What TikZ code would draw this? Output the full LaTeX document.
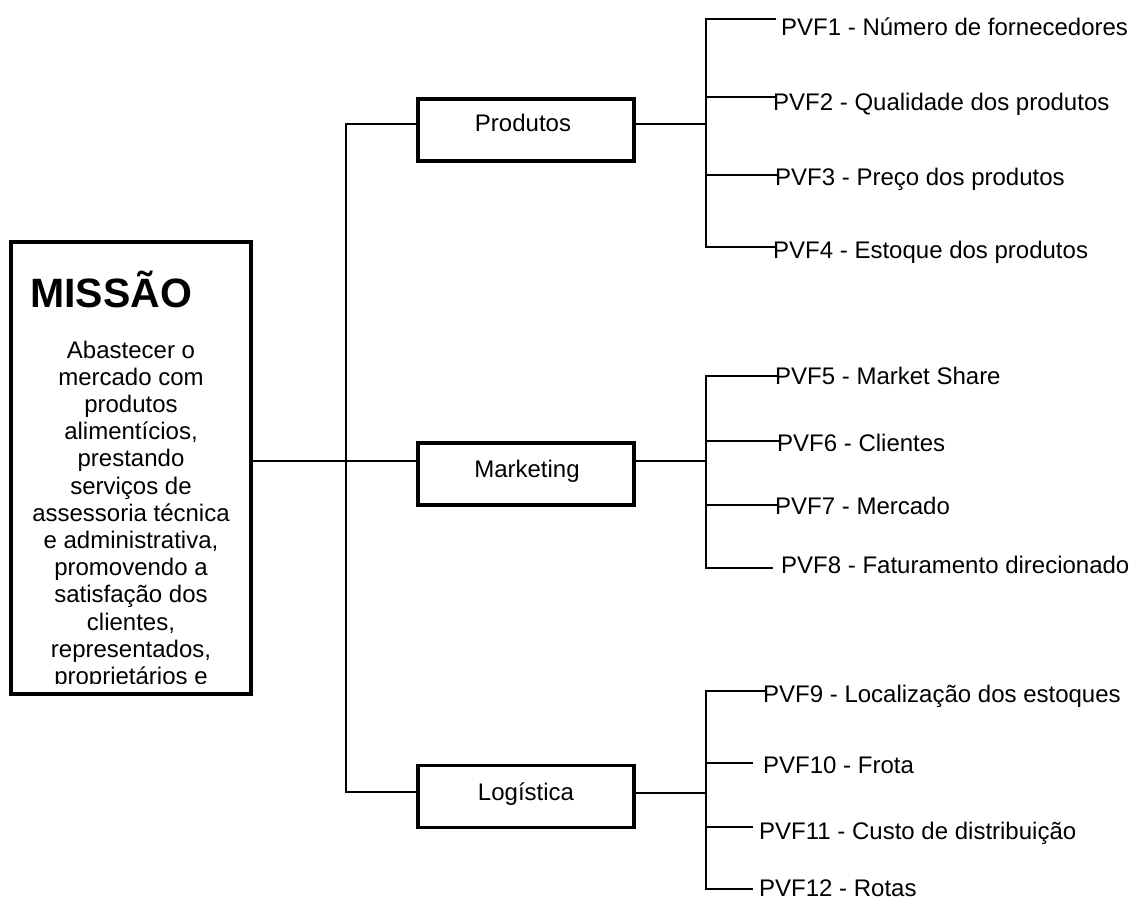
\documentclass[tikz,border=0pt]{standalone}
\usepackage{fontspec}
\setmainfont{Liberation Sans}
\begin{document}
\begin{tikzpicture}[x=1pt,y=-1pt,
  conn/.style={line width=1.6pt},
  thickbox/.style={draw,line width=3.5pt,inner sep=0pt},
  catbox/.style={thickbox,minimum width=216pt,minimum height=62pt},
  txt/.style={inner sep=0pt,font=\fontsize{24}{28}\selectfont},
  lbl/.style={txt,anchor=base west},
  cat/.style={txt,anchor=base}]
\useasboundingbox (0,0) rectangle (1138,900);

% mission box
\node[thickbox,minimum width=240pt,minimum height=452pt] (missao) at (131,468) {};
\node[anchor=base west,inner sep=0pt,font=\bfseries\fontsize{41}{41}\selectfont] (titulo) at (30,307) {MISSÃO};
\begin{scope}
  \clip (13,250) rectangle (249,683);
  \node[anchor=base,inner sep=0pt] (texto) at (131,358) {\parbox[t]{236pt}{\centering\fontsize{24}{27.2}\selectfont
    Abastecer o\\ mercado com\\ produtos\\ alimentícios,\\ prestando\\ serviços de\\ assessoria técnica\\ e administrativa,\\ promovendo a\\ satisfação dos\\ clientes,\\ representados,\\ proprietários e}};
\end{scope}

% category boxes
\node[catbox] (prod) at (526,130) {};
\node[cat] (prodt) at (523,131) {Produtos};
\node[catbox] (mkt) at (526,474) {};
\node[cat] (mktt) at (527,477) {Marketing};
\node[catbox] (log) at (526,796.5) {};
\node[cat] (logt) at (526,800) {Logística};

% trunk from the mission to the categories
\coordinate (tp) at (346,124);
\coordinate (tm) at (346,461);
\coordinate (tl) at (346,792);
\draw[conn] (missao.east |- tm) -- (tm) -- (mkt.west |- tm);
\draw[conn] (prod.west |- tp) -- (tp) -- (tl) -- (log.west |- tl);

% category connectors to the PVF bars
\coordinate (bp) at (706,124);
\coordinate (bm) at (706,461);
\coordinate (bl) at (706,793);
\draw[conn] (prod.east |- bp) -- (bp);
\draw[conn] (mkt.east |- bm) -- (bm);
\draw[conn] (log.east |- bl) -- (bl);

% Produtos
\coordinate (p1a) at (706,19);  \coordinate (p1b) at (776,19);
\coordinate (p2a) at (706,97);  \coordinate (p2b) at (776,97);
\coordinate (p3a) at (706,175); \coordinate (p3b) at (777,175);
\coordinate (p4a) at (706,247); \coordinate (p4b) at (776,247);
\node[lbl] (pvf1) at (781,35)  {PVF1 - Número de fornecedores};
\node[lbl] (pvf2) at (773,110) {PVF2 - Qualidade dos produtos};
\node[lbl] (pvf3) at (775,185) {PVF3 - Preço dos produtos};
\node[lbl] (pvf4) at (773,258) {PVF4 - Estoque dos produtos};
\draw[conn] (p1b) -- (p1a) -- (p4a) -- (p4b);
\draw[conn] (p2a) -- (p2b);
\draw[conn] (p3a) -- (p3b);

% Marketing
\coordinate (p5a) at (706,376); \coordinate (p5b) at (777,376);
\coordinate (p6a) at (706,441); \coordinate (p6b) at (779,441);
\coordinate (p7a) at (706,505); \coordinate (p7b) at (777,505);
\coordinate (p8a) at (706,568); \coordinate (p8b) at (773,568);
\node[lbl] (pvf5) at (775,384) {PVF5 - Market Share};
\node[lbl] (pvf6) at (777,451) {PVF6 - Clientes};
\node[lbl] (pvf7) at (775,514) {PVF7 - Mercado};
\node[lbl] (pvf8) at (781,573) {PVF8 - Faturamento direcionado};
\draw[conn] (p5b) -- (p5a) -- (p8a) -- (p8b);
\draw[conn] (p6a) -- (p6b);
\draw[conn] (p7a) -- (p7b);

% Logística
\coordinate (p9a)  at (706,691); \coordinate (p9b)  at (765,691);
\coordinate (p10a) at (706,763); \coordinate (p10b) at (753,763);
\coordinate (p11a) at (706,827); \coordinate (p11b) at (753,827);
\coordinate (p12a) at (706,889); \coordinate (p12b) at (753,889);
\node[lbl] (pvf9)  at (763,702) {PVF9 - Localização dos estoques};
\node[lbl] (pvf10) at (763,773) {PVF10 - Frota};
\node[lbl] (pvf11) at (759,839) {PVF11 - Custo de distribuição};
\node[lbl] (pvf12) at (759,896) {PVF12 - Rotas};
\draw[conn] (p9b) -- (p9a) -- (p12a) -- (p12b);
\draw[conn] (p10a) -- (p10b);
\draw[conn] (p11a) -- (p11b);
\end{tikzpicture}
\end{document}
